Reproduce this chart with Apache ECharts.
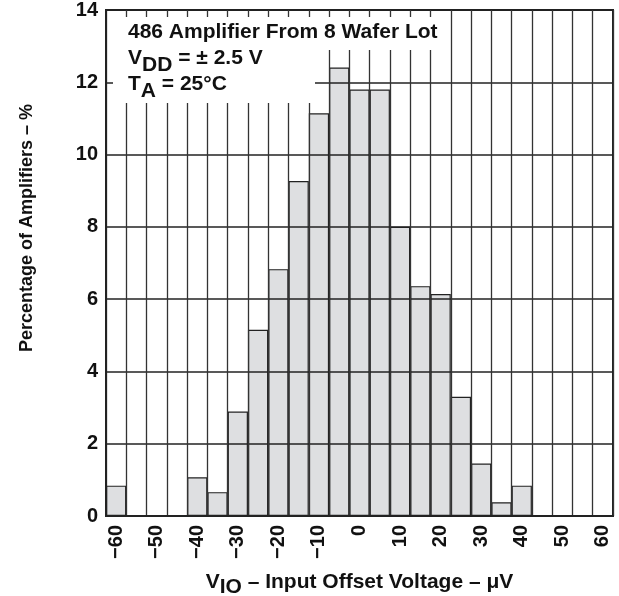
<!DOCTYPE html>
<html>
<head>
<meta charset="utf-8">
<script src="https://cdn.jsdelivr.net/npm/echarts@6/dist/echarts.min.js"></script>
<style>
  html, body { margin: 0; padding: 0; background: #fff; }
  #main { width: 619px; height: 596px; }
</style>
</head>
<body>
<div id="main"></div>
<script>
// bin centres in microvolts (5 uV wide bins)
var bins = ['\u221260', '\u221255', '\u221250', '\u221245', '\u221240', '\u221235', '\u221230', '\u221225',
  '\u221220', '\u221215', '\u221210', '\u22125', '0', '5', '10', '15', '20', '25', '30', '35', '40',
  '45', '50', '55', '60'];
// percentage of amplifiers in each bin
var pct = [0.84, 0, 0, 0, 1.07, 0.66, 2.89, 5.15, 6.83, 9.27, 11.14, 12.41, 11.8, 11.8,
  8.0, 6.36, 6.14, 3.3, 1.45, 0.38, 0.84, 0, 0, 0, 0];

var FONT = '"Liberation Sans", Arial, sans-serif';
var ink = '#111';

var myChart = echarts.init(document.getElementById('main'));

var option = {
  animation: false,
  grid: {
    left: 106,
    right: 6,
    top: 10,
    bottom: 80,
    containLabel: false,
    outerBoundsMode: 'none',
    show: true,
    borderColor: '#222',
    borderWidth: 2
  },
  xAxis: {
    type: 'category',
    data: bins,
    z: 5,
    boundaryGap: true,
    axisLine: { show: true, lineStyle: { color: '#222', width: 2 } },
    axisTick: { show: false },
    axisLabel: {
      interval: 1,
      rotate: 90,
      margin: 9,
      color: ink,
      fontFamily: FONT,
      fontWeight: 'bold',
      fontSize: 20
    },
    splitLine: { show: true, interval: 0, lineStyle: { color: '#333', width: 1.3 } },
    name: '{v|V}{s|IO}{v| \u2013 Input Offset Voltage \u2013 \u03bcV}',
    nameLocation: 'middle',
    nameGap: 51,
    nameMoveOverlap: false,
    nameTextStyle: {
      rich: {
        v: { fontFamily: FONT, fontWeight: 'bold', fontSize: 21, color: ink },
        s: { fontFamily: FONT, fontWeight: 'bold', fontSize: 21, color: ink, padding: [10, 0, 0, 0] }
      }
    }
  },
  yAxis: {
    type: 'value',
    min: 0,
    max: 14,
    interval: 2,
    z: 5,
    axisLine: { show: true, lineStyle: { color: '#222', width: 2 } },
    axisTick: { show: false },
    axisLabel: {
      margin: 8,
      color: ink,
      fontFamily: FONT,
      fontWeight: 'bold',
      fontSize: 20
    },
    splitLine: { show: true, lineStyle: { color: '#222', width: 1.5 } },
    name: 'Percentage of Amplifiers \u2013 %',
    nameLocation: 'middle',
    nameGap: 70,
    nameMoveOverlap: false,
    nameTextStyle: {
      fontFamily: FONT,
      fontWeight: 'bold',
      fontSize: 18,
      color: ink,
      padding: [0, 0, 0, 70]
    }
  },
  series: [{
    type: 'bar',
    data: pct,
    barWidth: '100%',
    barCategoryGap: 0,
    itemStyle: { color: '#dedfe1', borderColor: '#222', borderWidth: 1.2 }
  }],
  graphic: [
    { type: 'rect', left: 113, top: 17, z: 10, shape: { width: 334, height: 33 }, style: { fill: '#fff' } },
    { type: 'rect', left: 113, top: 50, z: 10, shape: { width: 202, height: 53 }, style: { fill: '#fff' } },
    {
      type: 'text', left: 128, top: 22, z: 11,
      style: { text: '486 Amplifier From 8 Wafer Lot', font: 'bold 21px ' + FONT, fill: ink }
    },
    {
      type: 'text', left: 128, top: 48, z: 11,
      style: {
        text: '{v|V}{s|DD}{v| = \u00b1 2.5 V}',
        rich: {
          v: { font: 'bold 21px ' + FONT, fill: ink },
          s: { font: 'bold 21px ' + FONT, fill: ink, padding: [14, 0, 0, 0] }
        }
      }
    },
    {
      type: 'text', left: 128, top: 74, z: 11,
      style: {
        text: '{v|T}{s|A}{v| = 25\u00b0C}',
        rich: {
          v: { font: 'bold 21px ' + FONT, fill: ink },
          s: { font: 'bold 21px ' + FONT, fill: ink, padding: [14, 0, 0, 0] }
        }
      }
    }
  ]
};

myChart.setOption(option);
</script>
</body>
</html>
